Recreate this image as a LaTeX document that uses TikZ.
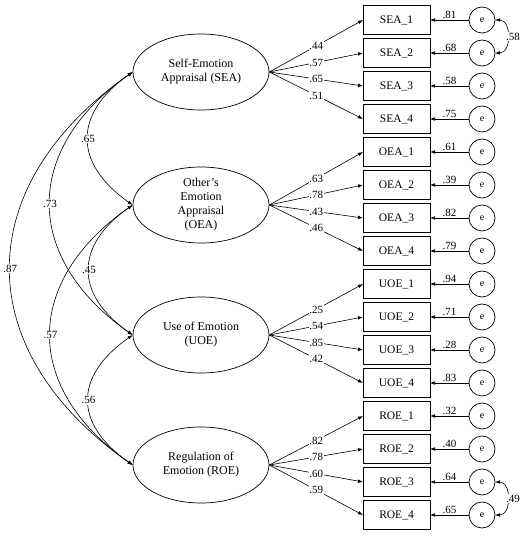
\documentclass[tikz,border=0pt]{standalone}
\usepackage{fontspec}
\setmainfont{Liberation Serif}
\usetikzlibrary{arrows.meta,positioning,shapes.geometric}
\tikzset{
  latent/.style={
    ellipse,
    draw=black,
    line width=0.7pt,
    minimum width=136pt,
    minimum height=76pt,
    inner sep=0pt,
    align=center,
    font=\fontsize{12}{14}\selectfont
  },
  indicator/.style={
    rectangle,
    draw=black,
    line width=0.7pt,
    minimum width=67pt,
    minimum height=29pt,
    inner sep=0pt,
    outer sep=0pt,
    font=\fontsize{11.5}{13}\selectfont
  },
  errnode/.style={
    circle,
    draw=black,
    line width=0.7pt,
    minimum size=26pt,
    inner sep=0pt,
    outer sep=0pt,
    font=\fontsize{10}{12}\selectfont
  },
  loadarrow/.style={-{Latex[length=5pt,width=3.6pt]}, line width=0.6pt},
  errarrow/.style={-{Latex[length=5pt,width=3.6pt]}, line width=0.6pt},
  covarrow/.style={{Latex[length=5pt,width=3.6pt]}-{Latex[length=5pt,width=3.6pt]}, line width=0.6pt},
  coef/.style={font=\fontsize{11}{12}\selectfont, fill=white, inner sep=0.8pt},
  errcoef/.style={font=\fontsize{11}{12}\selectfont, above, inner sep=1pt},
  errcov/.style={font=\fontsize{11}{12}\selectfont, fill=white, inner sep=0.3pt, xshift=5.5pt}
}
\begin{document}
\begin{tikzpicture}[x=1pt, y=1pt, node distance=4pt and 39pt]
  \useasboundingbox (0,0) rectangle (522,536);

  % latent factors
  \node[latent] (SEA) at (201,464) {Self-Emotion\\Appraisal (SEA)};
  \node[latent] (OEA) at (201,331) {Other’s\\Emotion\\Appraisal\\(OEA)};
  \node[latent] (UOE) at (201,201) {Use of Emotion\\(UOE)};
  \node[latent] (ROE) at (201,71) {Regulation of\\Emotion (ROE)};

  % observed items
  \node[indicator] (SEA1) at (396.5,516) {SEA\_1};
  \node[indicator, below=of SEA1] (SEA2) {SEA\_2};
  \node[indicator, below=of SEA2] (SEA3) {SEA\_3};
  \node[indicator, below=of SEA3] (SEA4) {SEA\_4};
  \node[indicator, below=of SEA4] (OEA1) {OEA\_1};
  \node[indicator, below=of OEA1] (OEA2) {OEA\_2};
  \node[indicator, below=of OEA2] (OEA3) {OEA\_3};
  \node[indicator, below=of OEA3] (OEA4) {OEA\_4};
  \node[indicator, below=of OEA4] (UOE1) {UOE\_1};
  \node[indicator, below=of UOE1] (UOE2) {UOE\_2};
  \node[indicator, below=of UOE2] (UOE3) {UOE\_3};
  \node[indicator, below=of UOE3] (UOE4) {UOE\_4};
  \node[indicator, below=of UOE4] (ROE1) {ROE\_1};
  \node[indicator, below=of ROE1] (ROE2) {ROE\_2};
  \node[indicator, below=of ROE2] (ROE3) {ROE\_3};
  \node[indicator, below=of ROE3] (ROE4) {ROE\_4};

  % error terms
  \node[errnode, right=of SEA1] (eSEA1) {e};
  \node[errnode, right=of SEA2] (eSEA2) {e};
  \node[errnode, right=of SEA3] (eSEA3) {e};
  \node[errnode, right=of SEA4] (eSEA4) {e};
  \node[errnode, right=of OEA1] (eOEA1) {e};
  \node[errnode, right=of OEA2] (eOEA2) {e};
  \node[errnode, right=of OEA3] (eOEA3) {e};
  \node[errnode, right=of OEA4] (eOEA4) {e};
  \node[errnode, right=of UOE1] (eUOE1) {e};
  \node[errnode, right=of UOE2] (eUOE2) {e};
  \node[errnode, right=of UOE3] (eUOE3) {e};
  \node[errnode, right=of UOE4] (eUOE4) {e};
  \node[errnode, right=of ROE1] (eROE1) {e};
  \node[errnode, right=of ROE2] (eROE2) {e};
  \node[errnode, right=of ROE3] (eROE3) {e};
  \node[errnode, right=of ROE4] (eROE4) {e};

  % loadings
  \draw[loadarrow] (SEA.east) -- node[coef] {.44} (SEA1.west);
  \draw[loadarrow] (SEA.east) -- node[coef] {.57} (SEA2.west);
  \draw[loadarrow] (SEA.east) -- node[coef] {.65} (SEA3.west);
  \draw[loadarrow] (SEA.east) -- node[coef] {.51} (SEA4.west);
  \draw[loadarrow] (OEA.east) -- node[coef] {.63} (OEA1.west);
  \draw[loadarrow] (OEA.east) -- node[coef] {.78} (OEA2.west);
  \draw[loadarrow] (OEA.east) -- node[coef] {.43} (OEA3.west);
  \draw[loadarrow] (OEA.east) -- node[coef] {.46} (OEA4.west);
  \draw[loadarrow] (UOE.east) -- node[coef] {.25} (UOE1.west);
  \draw[loadarrow] (UOE.east) -- node[coef] {.54} (UOE2.west);
  \draw[loadarrow] (UOE.east) -- node[coef] {.85} (UOE3.west);
  \draw[loadarrow] (UOE.east) -- node[coef] {.42} (UOE4.west);
  \draw[loadarrow] (ROE.east) -- node[coef] {.82} (ROE1.west);
  \draw[loadarrow] (ROE.east) -- node[coef] {.78} (ROE2.west);
  \draw[loadarrow] (ROE.east) -- node[coef] {.60} (ROE3.west);
  \draw[loadarrow] (ROE.east) -- node[coef] {.59} (ROE4.west);

  % error paths
  \draw[errarrow] (eSEA1.west) -- node[errcoef] {.81} (SEA1.east);
  \draw[errarrow] (eSEA2.west) -- node[errcoef] {.68} (SEA2.east);
  \draw[errarrow] (eSEA3.west) -- node[errcoef] {.58} (SEA3.east);
  \draw[errarrow] (eSEA4.west) -- node[errcoef] {.75} (SEA4.east);
  \draw[errarrow] (eOEA1.west) -- node[errcoef] {.61} (OEA1.east);
  \draw[errarrow] (eOEA2.west) -- node[errcoef] {.39} (OEA2.east);
  \draw[errarrow] (eOEA3.west) -- node[errcoef] {.82} (OEA3.east);
  \draw[errarrow] (eOEA4.west) -- node[errcoef] {.79} (OEA4.east);
  \draw[errarrow] (eUOE1.west) -- node[errcoef] {.94} (UOE1.east);
  \draw[errarrow] (eUOE2.west) -- node[errcoef] {.71} (UOE2.east);
  \draw[errarrow] (eUOE3.west) -- node[errcoef] {.28} (UOE3.east);
  \draw[errarrow] (eUOE4.west) -- node[errcoef] {.83} (UOE4.east);
  \draw[errarrow] (eROE1.west) -- node[errcoef] {.32} (ROE1.east);
  \draw[errarrow] (eROE2.west) -- node[errcoef] {.40} (ROE2.east);
  \draw[errarrow] (eROE3.west) -- node[errcoef] {.64} (ROE3.east);
  \draw[errarrow] (eROE4.west) -- node[errcoef] {.65} (ROE4.east);

  % error covariances
  \draw[covarrow] (eSEA1.east) to[out=0, in=0, looseness=1.3] node[errcov] {.58} (eSEA2.east);
  \draw[covarrow] (eROE3.east) to[out=0, in=0, looseness=1.3] node[errcov] {.49} (eROE4.east);

  % factor correlations
  \draw[covarrow] (SEA.west) to[out=215, in=145, looseness=1.4] node[coef] {.65} (OEA.west);
  \draw[covarrow] (SEA.west) to[out=215, in=145, looseness=1.31] node[coef] {.73} (UOE.west);
  \draw[covarrow] (SEA.west) to[out=215, in=145, looseness=1.3] node[coef] {.87} (ROE.west);
  \draw[covarrow] (OEA.west) to[out=215, in=145, looseness=1.4] node[coef] {.45} (UOE.west);
  \draw[covarrow] (OEA.west) to[out=215, in=145, looseness=1.32] node[coef] {.57} (ROE.west);
  \draw[covarrow] (UOE.west) to[out=215, in=145, looseness=1.42] node[coef] {.56} (ROE.west);
\end{tikzpicture}
\end{document}
